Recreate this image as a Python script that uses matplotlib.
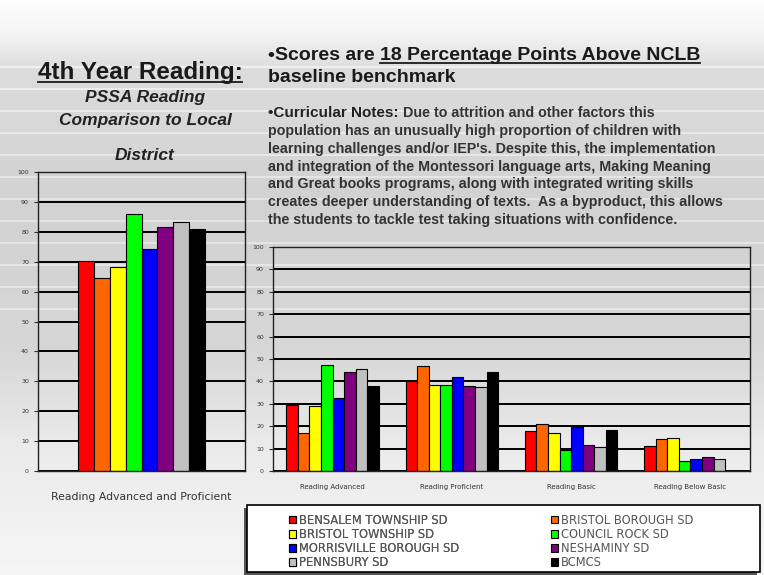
import numpy as np
import matplotlib
matplotlib.use('Agg')
import matplotlib.pyplot as plt
from matplotlib.lines import Line2D
from matplotlib.patches import Rectangle

# data
districts = ['BENSALEM TOWNSHIP SD', 'BRISTOL BOROUGH SD', 'BRISTOL TOWNSHIP SD',
             'COUNCIL ROCK SD', 'MORRISVILLE BOROUGH SD', 'NESHAMINY SD',
             'PENNSBURY SD', 'BCMCS']
colors = ['#ff0000', '#ff6600', '#ffff00', '#00ff00', '#0000ff', '#800080',
          '#c0c0c0', '#000000']
adv_prof = [70.3, 64.7, 68.2, 86.0, 74.4, 81.5, 83.2, 81.0]

levels = ['Reading Advanced', 'Reading Proficient', 'Reading Basic', 'Reading Below Basic']
advanced = [29.6, 17.1, 29.0, 47.5, 32.6, 44.2, 45.7, 37.8]
proficient = [40.2, 47.0, 38.2, 38.2, 42.0, 37.8, 37.5, 44.2]
basic = [17.9, 21.1, 17.0, 9.2, 19.6, 11.8, 10.7, 18.5]
below_basic = [11.0, 14.1, 14.7, 4.5, 5.5, 6.2, 5.5, 0.0]

W, H = 764, 575
fig = plt.figure(figsize=(W / 100, H / 100), dpi=100)

# slide background
bg = fig.add_axes([0, 0, 1, 1])
bg.set_axis_off()
rows = np.array([0, 30, 70, 200, 350, 450, 575])
vals = np.array([0.99, 0.96, 0.86, 0.82, 0.84, 0.92, 0.96])
yy = np.interp(np.arange(H), rows, vals)
img = np.tile(yy[:, None], (1, W))
for y0 in range(66, 330, 22):
    img[y0:y0 + 2, :] = np.minimum(img[y0:y0 + 2, :] + 0.07, 1.0)
bg.imshow(img, cmap='gray', vmin=0, vmax=1, aspect='auto', extent=[0, W, H, 0])
bg.set_xlim(0, W)
bg.set_ylim(H, 0)


def ax_rect(x0, y0, x1, y1):
    return [x0 / W, 1 - y1 / H, (x1 - x0) / W, (y1 - y0) / H]


def style_axes(ax):
    ax.patch.set_alpha(0)
    ax.set_ylim(0, 100)
    ax.set_yticks(range(0, 101, 10))
    ax.yaxis.grid(True, color='black', linewidth=1.4)
    ax.set_axisbelow(True)
    ax.tick_params(axis='y', labelsize=4.5, length=3, colors='#333333')
    ax.tick_params(axis='x', length=0, labelcolor='#333333')
    for s in ax.spines.values():
        s.set_color('#222222')
        s.set_linewidth(1.0)


# left chart
ax1 = fig.add_axes(ax_rect(38, 172, 245, 471))
style_axes(ax1)
bw = 0.077
n = len(districts)
for i in range(n):
    ax1.bar((i - (n - 1) / 2) * bw, adv_prof[i], width=bw, color=colors[i],
            edgecolor='black', linewidth=0.8)
ax1.set_xlim(-0.5, 0.5)
ax1.set_xticks([0])
ax1.set_xticklabels(['Reading Advanced and Proficient'], fontsize=7.8)
ax1.tick_params(axis='x', pad=15)

# right chart
ax2 = fig.add_axes(ax_rect(273, 247, 750, 471))
style_axes(ax2)
series = np.array([advanced, proficient, basic, below_basic])
bw2 = 0.097
x = np.arange(len(levels))
handles = []
for i in range(n):
    b = ax2.bar(x + (i - (n - 1) / 2) * bw2, series[:, i], width=bw2, color=colors[i],
                edgecolor='black', linewidth=0.8, label=districts[i])
    handles.append(b)
ax2.set_xlim(-0.5, 3.5)
ax2.set_xticks(x)
ax2.set_xticklabels(levels, fontsize=5)
ax2.tick_params(axis='x', pad=9)

# legend box with shadow
fig.add_artist(Rectangle((244 / W, 1 - 575 / H), 513 / W, 67 / H, transform=fig.transFigure,
                         facecolor='#555555', edgecolor='none'))
fig.add_artist(Rectangle((247 / W, 1 - 572 / H), 513 / W, 67 / H, transform=fig.transFigure,
                         facecolor='white', edgecolor='black', linewidth=1.2))
leg_kw = dict(loc='upper left', fontsize=8.3, frameon=False, handlelength=0.6,
              handleheight=0.6, handletextpad=0.25, labelspacing=0.1, borderpad=0.0,
              labelcolor='#555555')
leg1 = fig.legend([handles[k] for k in (0, 2, 4, 6)], [districts[k] for k in (0, 2, 4, 6)],
                  bbox_to_anchor=(283 / W, 1 - 508 / H), **leg_kw)
fig.add_artist(leg1)
fig.legend([handles[k] for k in (1, 3, 5, 7)], [districts[k] for k in (1, 3, 5, 7)],
           bbox_to_anchor=(545 / W, 1 - 508 / H), **leg_kw)

# texts
narrow = ['Liberation Sans Narrow', 'Liberation Sans', 'DejaVu Sans']
title = fig.text(140 / W, 1 - 72 / H, '4th Year Reading:', ha='center', va='center',
                 fontsize=17.5, fontweight='bold', color='#1a1a1a', family=narrow)
for yv, s in [(98, 'PSSA Reading'), (120, 'Comparison to Local'), (155, 'District')]:
    fig.text(145 / W, 1 - yv / H, s, ha='center', va='center', fontsize=12.5,
             fontweight='bold', fontstyle='italic', color='#222222', family=narrow)

scores = fig.text(268 / W, 1 - 55 / H, '\u2022Scores are ', ha='left', va='center',
                  fontsize=14, fontweight='bold', color='#1a1a1a', family=narrow)
ul_txt = fig.text(0, 1 - 55 / H, '18 Percentage Points Above NCLB', ha='left', va='center',
                  fontsize=14, fontweight='bold', color='#1a1a1a', family=narrow)
fig.text(268 / W, 1 - 77 / H, 'baseline benchmark', ha='left', va='center', fontsize=14,
         fontweight='bold', color='#1a1a1a', family=narrow)

notes = ['population has an unusually high proportion of children with',
         "learning challenges and/or IEP's. Despite this, the implementation",
         'and integration of the Montessori language arts, Making Meaning',
         'and Great books programs, along with integrated writing skills',
         'creates deeper understanding of texts.  As a byproduct, this allows',
         'the students to tackle test taking situations with confidence.']
cn = fig.text(268 / W, 1 - 113 / H, '\u2022Curricular Notes:', ha='left', va='center',
              fontsize=11, fontweight='bold', color='#222222', family=narrow)
cn_rest = fig.text(0, 1 - 113 / H, ' Due to attrition and other factors this', ha='left',
                   va='center', fontsize=10.3, fontweight='bold', color='#333333', family=narrow)
for k, line in enumerate(notes):
    fig.text(268 / W, 1 - (131 + 17.8 * k) / H, line, ha='left', va='center', fontsize=10.3,
             fontweight='bold', color='#333333', family=narrow)

# position inline pieces and draw underlines
fig.canvas.draw()
r = fig.canvas.get_renderer()
ul_txt.set_x(scores.get_window_extent(r).x1 / W)
cn_rest.set_x(cn.get_window_extent(r).x1 / W)
fig.canvas.draw()
for t in (title, ul_txt):
    b = t.get_window_extent(r)
    yline = (b.y0 + 1) / H
    fig.add_artist(Line2D([b.x0 / W, b.x1 / W], [yline, yline], color='#1a1a1a',
                          linewidth=1.3, transform=fig.transFigure))

fig.savefig('out.png', dpi=100)
